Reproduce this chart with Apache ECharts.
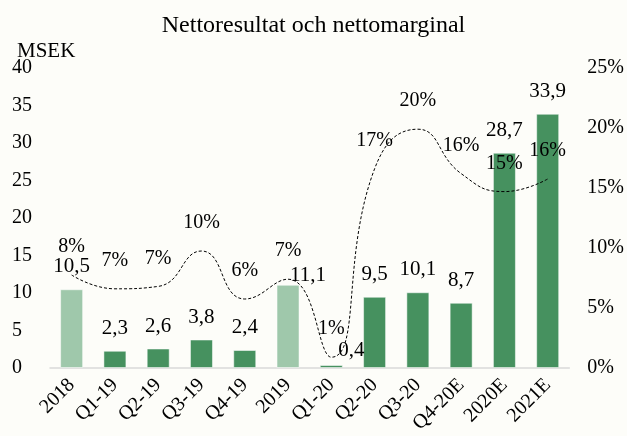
<!DOCTYPE html>
<html>
<head>
<meta charset="utf-8">
<script src="https://cdn.jsdelivr.net/npm/echarts@6/dist/echarts.min.js"></script>
<style>
  html, body { margin: 0; padding: 0; background: #fdfdf9; }
  #myChart { width: 627px; height: 436px; }
</style>
</head>
<body>
<div id="myChart"></div>
<script>
// data
var categories = ['2018', 'Q1-19', 'Q2-19', 'Q3-19', 'Q4-19', '2019', 'Q1-20', 'Q2-20', 'Q3-20', 'Q4-20E', '2020E', '2021E'];
var resultValues = [10.5, 2.3, 2.6, 3.8, 2.4, 11.1, 0.4, 9.5, 10.1, 8.7, 28.7, 33.9];
var marginValues = [7.75, 6.6, 6.8, 9.75, 5.75, 7.4, 0.9, 16.6, 19.9, 16.2, 14.7, 15.75];
var yearly = ['2018', '2019'];
var leftTicks = [0, 40, 5];
var rightTicks = [0, 25, 5];

var font = '"Liberation Serif", "DejaVu Serif", serif';
var lightGreen = '#9fc8ab';
var darkGreen = '#46915f';

var myChart = echarts.init(document.getElementById('myChart'));

var barData = resultValues.map(function (v, i) {
    var item = {
        value: v,
        itemStyle: {color: yearly.indexOf(categories[i]) >= 0 ? lightGreen : darkGreen}
    };
    // a couple of labels sit shifted to the right in the original
    if (categories[i] === '2019') item.label = {offset: [20, 13]};
    if (categories[i] === 'Q1-20') item.label = {offset: [20, 8]};
    return item;
});

var option = {
    backgroundColor: '#fdfdf9',
    textStyle: {fontFamily: font},
    title: [
        {text: 'Nettoresultat och nettomarginal', left: 'center', top: 9,
            textStyle: {fontFamily: font, fontSize: 24, fontWeight: 'normal', color: '#000'}},
        {text: 'MSEK', left: 12, top: 36,
            textStyle: {fontFamily: font, fontSize: 21, fontWeight: 'normal', color: '#000'}}
    ],
    grid: {left: 50, right: 56, top: 68, bottom: 68},
    xAxis: {
        type: 'category',
        data: categories,
        axisLine: {lineStyle: {color: '#d9d9d9', width: 1.5}},
        axisTick: {show: false},
        axisLabel: {rotate: 45, fontSize: 20, color: '#000', fontFamily: font, margin: 14, interval: 0}
    },
    yAxis: [
        {
            type: 'value', min: leftTicks[0], max: leftTicks[1], interval: leftTicks[2],
            splitLine: {show: false},
            axisLine: {show: false},
            axisLabel: {fontSize: 20, color: '#000', fontFamily: font, align: 'left', margin: 38}
        },
        {
            type: 'value', min: rightTicks[0], max: rightTicks[1], interval: rightTicks[2],
            splitLine: {show: false},
            axisLine: {show: false},
            axisLabel: {fontSize: 20, color: '#000', fontFamily: font, margin: 18, formatter: '{value}%'}
        }
    ],
    series: [
        {
            name: 'Nettoresultat',
            type: 'bar',
            barWidth: 23,
            data: barData,
            itemStyle: {borderColor: 'rgba(255,255,255,0.5)', borderWidth: 1},
            label: {
                show: true, position: 'top', distance: 12,
                fontSize: 21, color: '#000', fontFamily: font,
                formatter: function (p) { return String(p.value).replace('.', ','); }
            },
            z: 2
        },
        {
            name: 'Nettomarginal',
            type: 'line',
            yAxisIndex: 1,
            data: marginValues,
            smooth: 0.5,
            symbol: 'circle',
            symbolSize: 2,
            showSymbol: true,
            itemStyle: {color: 'rgba(0,0,0,0)'},
            lineStyle: {color: '#000', width: 1, type: [3, 2]},
            label: {
                show: true, position: 'top', distance: 17,
                fontSize: 20, color: '#000', fontFamily: font,
                formatter: function (p) { return Math.round(p.value) + '%'; }
            },
            labelLayout: {hideOverlap: false},
            z: 3
        }
    ],
    animation: false
};

myChart.setOption(option);
</script>
</body>
</html>
